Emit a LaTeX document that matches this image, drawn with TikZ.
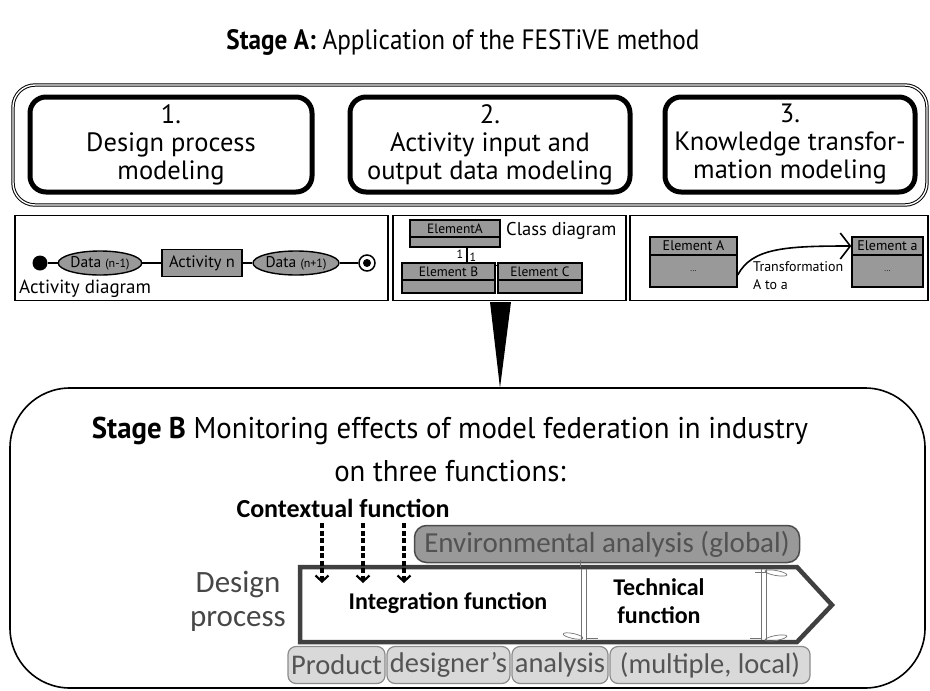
\documentclass[tikz,border=0pt]{standalone}
\usepackage{fontspec}
\setmainfont{PT Sans}
\newfontfamily\calfont{Carlito}
\usetikzlibrary{arrows.meta,shapes.geometric}
\definecolor{elfill}{gray}{0.6}
\definecolor{txtgray}{gray}{0.33}
\newcommand\sxa[1]{\scalebox{0.9}[1]{#1}}
\newcommand\sxb[1]{\scalebox{0.96}[1]{#1}}
\begin{document}
\begin{tikzpicture}[x=1pt,y=-1pt,
  stagebox/.style={draw,line width=5pt,rounded corners=16pt,minimum height=95pt,align=center,inner sep=0pt,font=\fontsize{26.5}{28}\selectfont},
  panel/.style={draw,line width=1.3pt,minimum height=85pt,inner sep=0pt},
  elem/.style={draw,line width=1.4pt,fill=elfill,inner sep=0pt},
  dataell/.style={ellipse,draw,line width=1.4pt,fill=elfill,inner sep=0pt,minimum height=24pt,font=\fontsize{15.5}{16}\selectfont},
  dasharrow/.style={line width=3.6pt,dash pattern=on 5pt off 2.5pt,-{Straight Barb[length=6pt,width=13pt,line width=2.2pt]}},
  botbox/.style={draw=black!45,line width=1.2pt,fill=black!15,rounded corners=8pt,minimum height=37pt,inner sep=0pt,text=txtgray,font=\calfont\fontsize{28.5}{30}\selectfont},
  beam/.style={black!55,line width=0.7pt}
]
\useasboundingbox (0,0) rectangle (930,691);

% ---------- Stage A ----------
\node (titleA) at (463,42) {\fontsize{28}{30}\selectfont\sxa{\textbf{Stage A:} Application of the FESTiVE method}};
\node (outerA) [draw,line width=1pt,double distance=1.4pt,rounded corners=22pt,minimum width=914pt,minimum height=120pt] at (470,145) {};
\node (s1) [stagebox,minimum width=282pt] at (171,144.5) {1.\\Design process\\modeling};
\node (s2) [stagebox,minimum width=280pt] at (490,144.5) {2.\\Activity input and\\output data modeling};
\node (s3) [stagebox,minimum width=250pt] at (790,144.5) {3.\\Knowledge transfor-\\mation modeling};

% ---------- panels ----------
\node (p1) [panel,minimum width=373pt] at (201.5,258) {};
\node (p2) [panel,minimum width=233pt] at (509.5,258) {};
\node (p3) [panel,minimum width=298pt] at (779,258) {};

% activity diagram
\node (st) [circle,fill=black,minimum size=15pt,inner sep=0pt] at (40,263) {};
\node (d1) [dataell,minimum width=80pt] at (100,263) {Data {\fontsize{12}{12}\selectfont(n-1)}};
\node (act) [elem,minimum width=80pt,minimum height=27pt,font=\fontsize{16.5}{17}\selectfont] at (202,263) {Activity n};
\node (d2) [dataell,minimum width=83pt] at (296,263) {Data {\fontsize{12}{12}\selectfont(n+1)}};
\node (en) [circle,draw,line width=1.5pt,minimum size=16pt,inner sep=0pt] at (367,263) {};
\node (enin) [circle,fill=black,minimum size=8pt,inner sep=0pt] at (367,263) {};
\draw[line width=1.5pt] (st) -- (d1) (d1) -- (act) (act) -- (d2) (d2) -- (en);
\node (adl) [anchor=west,inner sep=0pt,font=\fontsize{19}{20}\selectfont] at (19,289) {Activity diagram};

% class diagram
\node (eAh) [elem,minimum width=90pt,minimum height=17pt,font=\fontsize{13.5}{14}\selectfont] at (455,228.5) {ElementA};
\node (eAb) [elem,minimum width=90pt,minimum height=10pt] at (455,242) {};
\node (cdl) [anchor=west,inner sep=0pt,font=\fontsize{18.5}{19}\selectfont] at (506,231) {Class diagram};
\node (eBh) [elem,minimum width=93pt,minimum height=17pt,font=\fontsize{13.5}{14}\selectfont] at (448.5,271.5) {Element B};
\node (eBb) [elem,minimum width=93pt,minimum height=13pt] at (448.5,286.5) {};
\node (eCh) [elem,minimum width=84pt,minimum height=17pt,font=\fontsize{13.5}{14}\selectfont] at (540,271.5) {Element C};
\node (eCb) [elem,minimum width=84pt,minimum height=13pt] at (540,286.5) {};
\draw[line width=1.8pt] ([xshift=12pt]eAb.south) -- ([xshift=18.5pt]eBh.north);
\draw[line width=1pt] ([yshift=6pt]eBh.east) -- ([yshift=6pt]eCh.west);
\node (one1) [font=\fontsize{12}{12}\selectfont,inner sep=0pt] at (460,254) {1};
\node (one2) [font=\fontsize{12}{12}\selectfont,inner sep=0pt] at (473,257) {1};

% transformation
\node (tAh) [elem,minimum width=87pt,minimum height=18pt,font=\fontsize{14}{15}\selectfont] at (693.5,246) {Element A};
\node (tAb) [elem,minimum width=87pt,minimum height=32pt,font=\fontsize{8}{9}\selectfont] at (693.5,271) {...};
\node (tah) [elem,minimum width=71pt,minimum height=18pt,font=\fontsize{14}{15}\selectfont] at (887.5,246) {Element a};
\node (tab) [elem,minimum width=71pt,minimum height=32pt,font=\fontsize{8}{9}\selectfont] at (887.5,271) {...};
\draw[line width=1.6pt,-{Straight Barb[length=10pt,width=26pt,line width=1.6pt]}] ([yshift=-4pt]tAb.east) .. controls (752,248) and (785,246) .. (tah.west);
\node (trl) [anchor=west,inner sep=0pt,align=left,font=\fontsize{14}{18}\selectfont] at (753,276) {Transformation\\A to a};

% triangle pointer
\coordinate (triL) at (490,302);
\coordinate (triR) at (511,302);
\coordinate (triT) at (500,388);
\fill (triL) -- (triR) -- (triT) -- cycle;

% ---------- Stage B ----------
\draw[line width=1.6pt,rounded corners=60pt] (10,388) rectangle (925,688);
\node (tB1) at (450,431) {\fontsize{30}{32}\selectfont\sxb{\textbf{Stage B} Monitoring effects of model federation in industry}};
\node (tB2) at (450,471) {\fontsize{30}{32}\selectfont\sxb{on three functions:}};

\node (ctx) at (343,508) {\calfont\bfseries\fontsize{26}{28}\selectfont Contextual function};
\node (env) [draw=black!70,line width=1.5pt,fill=elfill,rounded corners=12pt,minimum width=385pt,minimum height=37pt,inner sep=0pt,text=black!68,font=\calfont\fontsize{29}{30}\selectfont] at (607,544) {Environmental analysis (global)};

% process chevron
\draw[line width=4.5pt,draw=black!75,fill=white,line join=miter] (300,567) -- (797,567) -- (832,605) -- (797,642) -- (300,642) -- cycle;

\foreach \x/\n in {322/a,363/b,404/c}{
  \coordinate (ca\n) at (\x,523);
  \coordinate (cb\n) at (\x,583);
  \draw[dasharrow] (ca\n) -- (cb\n);
}

\node (dp) [align=center,text=black!72,font=\calfont\fontsize{31}{34}\selectfont] at (238,601) {Design\\process};
\node (integ) at (448,603) {\calfont\bfseries\fontsize{24}{26}\selectfont Integration function};
\node (tech) [align=center,font=\calfont\bfseries\fontsize{24}{28}\selectfont] at (659,601) {Technical\\function};

% beams
\draw[beam] (581,569) -- (581,640) (586,569) -- (586,640);
\draw[beam] (573,636) ellipse [x radius=10pt,y radius=2.5pt,rotate=-12];
\draw[beam] (586,638) -- (598,638);
\draw[beam] (580,567) -- (580,560);
\draw[beam] (761,569) -- (761,640) (766,569) -- (766,640);
\draw[beam] (776,573) ellipse [x radius=11pt,y radius=2.5pt,rotate=-10];
\draw[beam] (776,638) ellipse [x radius=11pt,y radius=2.5pt,rotate=10];
\draw[beam] (761,638) -- (750,638);
\draw[beam] (766,572) -- (755,572);

% bottom boxes
\node (bb1) [botbox,minimum width=97pt] at (336.5,665) {Product};
\node (bb2) [botbox,minimum width=123pt] at (448.5,665) {designer’s};
\node (bb3) [botbox,minimum width=96pt] at (560,665) {analysis};
\node (bb4) [botbox,minimum width=200pt] at (710,665) {(multiple, local)};
\end{tikzpicture}
\end{document}
